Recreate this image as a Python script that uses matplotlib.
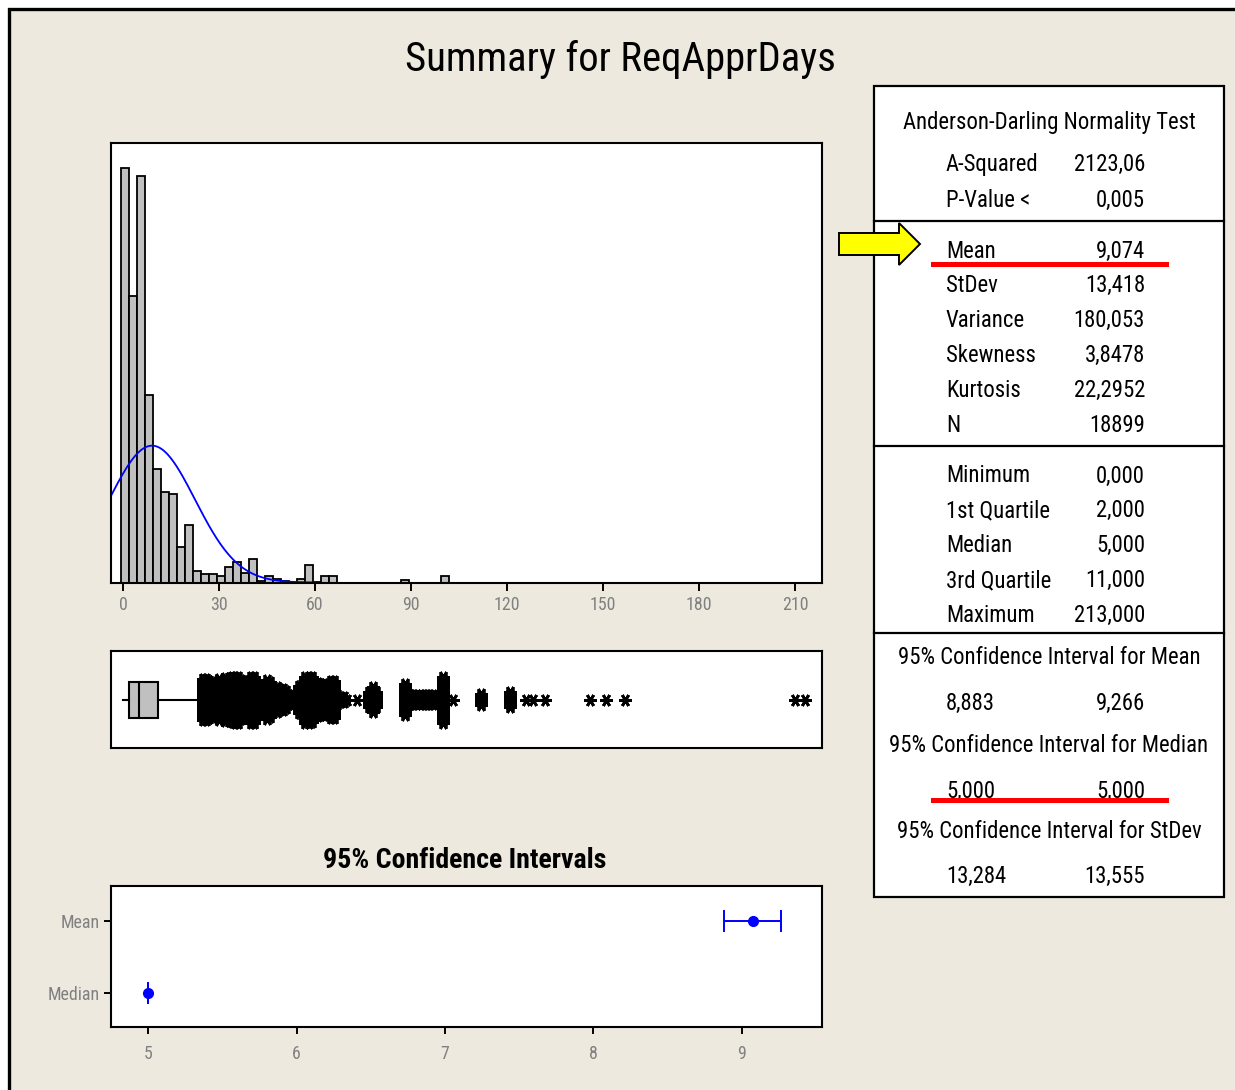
import numpy as np
import matplotlib
matplotlib.use("Agg")
import matplotlib.pyplot as plt
from matplotlib import font_manager
from matplotlib.font_manager import FontProperties
from matplotlib.patches import Polygon, Rectangle
from matplotlib.lines import Line2D
from matplotlib.transforms import Affine2D

# ---------------- summary statistics (graphical summary) ----------------
var_name = "ReqApprDays"
ad_labels = ["A-Squared", "P-Value <"]
ad_values = ["2123,06", "0,005"]
moment_labels = ["Mean", "StDev", "Variance", "Skewness", "Kurtosis", "N"]
moment_values = ["9,074", "13,418", "180,053", "3,8478", "22,2952", "18899"]
quart_labels = ["Minimum", "1st Quartile", "Median", "3rd Quartile", "Maximum"]
quart_values = ["0,000", "2,000", "5,000", "11,000", "213,000"]
ci_titles = ["95% Confidence Interval for Mean",
             "95% Confidence Interval for Median",
             "95% Confidence Interval for StDev"]
ci_lows = ["8,883", "5,000", "13,284"]
ci_highs = ["9,266", "5,000", "13,555"]

mean = 9.074
stdev = 13.418
n_obs = 18899
minimum, q1, median, q3 = 0.0, 2.0, 5.0, 11.0
whisker_hi = 24.0
mean_ci = [8.883, 9.266]
median_ci = [5.0, 5.0]
ci_names = ["Median", "Mean"]

# histogram (bin width 2.5)
bin_start = -0.75
bin_width = 2.5
hist_counts = [4255, 2943, 4170, 1924, 1166, 933, 906, 362, 591, 120,
               85, 85, 62, 154, 215, 96, 239, 17, 62, 34,
               17, 0, 34, 181, 10, 62, 62, 0, 0, 0,
               0, 0, 0, 0, 0, 27, 0, 0, 0, 0, 62]

# boxplot outliers (value, count)
out_values = [25, 26, 27, 28, 29, 30, 31, 32, 33, 34, 35, 36, 37, 38, 39, 40, 41,
              42, 43, 44, 45, 46, 47, 48, 49, 50, 51, 52, 53, 54, 55, 56, 57, 58,
              59, 60, 61, 62, 63, 64, 65, 66, 67, 68, 69, 70, 73, 77, 78, 79, 88,
              89, 90, 91, 92, 93, 94, 95, 96, 97, 100, 103, 112, 121, 126, 128,
              132, 146, 151, 157, 210, 213]
out_counts = [45, 40, 30, 30, 25, 40, 22, 50, 50, 54, 120, 95, 35, 30, 31, 150, 89,
              4, 8, 5, 35, 27, 12, 12, 10, 10, 7, 3, 3, 3, 15, 19, 60, 65,
              56, 25, 25, 20, 22, 20, 32, 30, 3, 2, 2, 1, 1, 6, 12, 6, 20,
              4, 3, 3, 3, 3, 3, 3, 3, 3, 60, 1, 4, 6, 1, 1,
              1, 1, 1, 1, 1, 1]


# ---------------- fonts: prefer a narrow sans face ----------------
def pick_font(bold):
    pref = ["liberation sans narrow", "dejavu sans condensed", "roboto condensed",
            "open sans condensed", "noto sans"]
    best, best_rank = None, 99
    for f in font_manager.fontManager.ttflist:
        nm = f.name.lower()
        fn = f.fname.lower()
        narrow = ("narrow" in nm or "condensed" in nm or "narrow" in fn
                  or ("condensed" in fn and "semi" not in fn and "extra" not in fn))
        if not narrow or f.style != "normal" or "mono" in nm:
            continue
        if "serif" in nm and "sans" not in nm:
            continue
        w = f.weight if isinstance(f.weight, int) else {"normal": 400, "regular": 400,
                                                         "bold": 700}.get(str(f.weight), 500)
        if bold and w < 600 or (not bold and w != 400):
            continue
        if "bold" in fn and not bold:
            continue
        rank = next((i for i, p in enumerate(pref) if nm.startswith(p)), 50)
        if rank < best_rank:
            best, best_rank = f, rank
    if best is None:
        return FontProperties(family="DejaVu Sans", weight="bold" if bold else "normal")
    return FontProperties(fname=best.fname)


fp_reg = pick_font(False)
fp_bold = pick_font(True)

W, H = 1235, 1090
beige = "#EDE9DE"
grey_txt = "#808080"

fig = plt.figure(figsize=(W / 100, H / 100), dpi=100, facecolor="white")
pix = Affine2D().scale(1 / W, -1 / H).translate(0, 1) + fig.transFigure
renderer = fig.canvas.get_renderer()


def fit(fp, text, target_px):
    p = fp.copy()
    p.set_size(20)
    t = fig.text(0, 0, text, fontproperties=p)
    w = t.get_window_extent(renderer).width
    t.remove()
    p.set_size(20 * target_px / w)
    return p


fp_title = fit(fp_reg, "Summary for ReqApprDays", 430)
fp_panel = fit(fp_reg, "Anderson-Darling Normality Test", 291)
fp_cititle = fit(fp_bold, "95% Confidence Intervals", 283)
fp_tick = fit(fp_reg, "Median", 52)

# background with outer frame
fig.patches.append(Rectangle((9, 9), 1300, 1200, transform=pix, facecolor=beige,
                             edgecolor="black", linewidth=2.4, zorder=-5))

fig.text(620, 59, "Summary for " + var_name, transform=pix, ha="center",
         va="center", fontproperties=fp_title)

# ---------------- histogram ----------------
ax_h = fig.add_axes([111 / W, 1 - 582.5 / H, 711 / W, 439.5 / H])
ax_h.set_facecolor("white")
edges = bin_start + bin_width * np.arange(len(hist_counts))
ax_h.bar(edges, hist_counts, width=bin_width, align="edge", color="#c0c0c0",
         edgecolor="black", linewidth=1.3)
xs = np.linspace(-3.75, 60, 400)
ys = n_obs * bin_width * np.exp(-0.5 * ((xs - mean) / stdev) ** 2) / (stdev * np.sqrt(2 * np.pi))
ax_h.plot(xs, ys, color="blue", lw=1.3)
ax_h.set_xlim(-3.75, 218.4)
ax_h.set_ylim(0, 4512)
ax_h.set_yticks([])
ax_h.set_xticks(range(0, 211, 30))
ax_h.tick_params(axis="x", direction="out", length=6, width=1.4, colors="black",
                 labelcolor=grey_txt, pad=4)
for lab in ax_h.get_xticklabels():
    lab.set_fontproperties(fp_tick)
for s in ax_h.spines.values():
    s.set_linewidth(1.5)

# ---------------- boxplot ----------------
ax_b = fig.add_axes([111 / W, 1 - 748 / H, 711 / W, 97 / H])
ax_b.set_facecolor("white")
stats = [dict(med=median, q1=q1, q3=q3, whislo=minimum, whishi=whisker_hi, fliers=[])]
box_kw = dict(positions=[0], widths=36, showcaps=False, patch_artist=True,
              boxprops=dict(facecolor="#c0c0c0", edgecolor="black", linewidth=1.5),
              medianprops=dict(color="black", linewidth=1.5),
              whiskerprops=dict(color="black", linewidth=1.5))
try:
    ax_b.bxp(stats, orientation="horizontal", **box_kw)
except TypeError:
    ax_b.bxp(stats, vert=False, **box_kw)
# overlapping outlier symbols pile up vertically where they are dense
for v, c in zip(out_values, out_counts):
    spread = 23 * min(1.0, np.log(c) / np.log(60)) ** 1.3
    n = int(2 * spread / 2.0) + 1
    offs = np.linspace(-spread, spread, n)
    ax_b.plot(np.full(n, v), offs, ls="none", marker=(6, 2, 90), ms=9, mew=2.0,
              color="black")
ax_b.set_xlim(-3.75, 218.4)
ax_b.set_ylim(-48.5, 48.5)
ax_b.set_xticks([])
ax_b.set_yticks([])
for s in ax_b.spines.values():
    s.set_linewidth(1.5)

# ---------------- confidence intervals ----------------
fig.text(465, 860, "95% Confidence Intervals", transform=pix, ha="center",
         va="center", fontproperties=fp_cititle)
ax_c = fig.add_axes([111 / W, 1 - 1027 / H, 711 / W, 141 / H])
ax_c.set_facecolor("white")
ax_c.errorbar([mean], [1], xerr=[[mean - mean_ci[0]], [mean_ci[1] - mean]], fmt="o",
              color="blue", ms=7, capsize=8, elinewidth=1.4, capthick=1.4)
ax_c.errorbar([median], [0], xerr=[[median - median_ci[0]], [median_ci[1] - median]],
              fmt="o", color="blue", ms=7, capsize=8, elinewidth=1.4, capthick=1.4)
ax_c.set_yticks([0, 1])
ax_c.set_yticklabels(ci_names)
ax_c.set_xticks([5, 6, 7, 8, 9])
ax_c.set_xlim(4.75, 9.54)
ax_c.set_ylim(-0.47, 1.49)
ax_c.tick_params(direction="out", length=5, width=1.4, colors="black",
                 labelcolor=grey_txt, pad=3)
ax_c.tick_params(axis="x", pad=8)
for lab in ax_c.get_xticklabels() + ax_c.get_yticklabels():
    lab.set_fontproperties(fp_tick)
for s in ax_c.spines.values():
    s.set_linewidth(1.5)

# ---------------- statistics panel ----------------
fig.patches.append(Rectangle((874, 86), 350, 811, transform=pix, facecolor="white",
                             edgecolor="black", linewidth=1.6, zorder=1))
for yy in [221, 446, 633]:
    fig.lines.append(Line2D([874, 1224], [yy, yy], transform=pix, color="black",
                            lw=1.6, zorder=2))

lx, rx, cx = 946, 1145, 1049


def row(label, value, y):
    fig.text(lx, y, label, transform=pix, ha="left", va="center",
             fontproperties=fp_panel, zorder=3)
    fig.text(rx, y, value, transform=pix, ha="right", va="center",
             fontproperties=fp_panel, zorder=3)


fig.text(cx, 122, "Anderson-Darling Normality Test", transform=pix, ha="center",
         va="center", fontproperties=fp_panel, zorder=3)
for i, (lab, val) in enumerate(zip(ad_labels, ad_values)):
    row(lab, val, 164 + 36.5 * i)
for i, (lab, val) in enumerate(zip(moment_labels, moment_values)):
    row(lab, val, 251 + 34.8 * i)
for i, (lab, val) in enumerate(zip(quart_labels, quart_values)):
    row(lab, val, 476 + 34.8 * i)
for i, (t, lo, hi) in enumerate(zip(ci_titles, ci_lows, ci_highs)):
    y0 = [658, 746, 831][i]
    fig.text(cx, y0, t, transform=pix, ha="center", va="center",
             fontproperties=fp_panel, zorder=3)
    row(lo, hi, y0 + 45)

# red highlight lines
for yy in [264, 800]:
    fig.lines.append(Line2D([933, 1166], [yy, yy], transform=pix, color="red",
                            lw=3.6, zorder=4))

# yellow arrow
arrow = [(839, 233), (899, 233), (899, 223), (920, 244), (899, 265), (899, 255), (839, 255)]
fig.patches.append(Polygon(arrow, closed=True, transform=pix, facecolor="yellow",
                           edgecolor="black", linewidth=1.4, zorder=5))

fig.savefig("out.png", dpi=100, facecolor="white")
